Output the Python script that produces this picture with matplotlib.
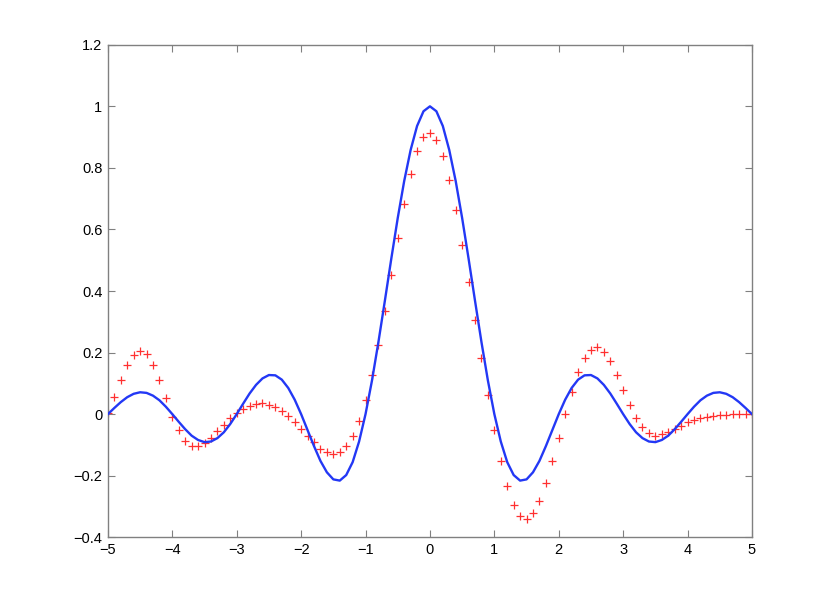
import numpy as np
import matplotlib
matplotlib.use("Agg")
import matplotlib.pyplot as plt
from matplotlib.ticker import FuncFormatter

plt.rcParams['font.family'] = ['Liberation Sans', 'DejaVu Sans']

# sample grid, -5 .. 5 step 0.1
x = np.linspace(-5, 5, 101)

# blue curve
blue_y = [
    0.000, 0.020, 0.039, 0.055, 0.066, 0.071, 0.069, 0.060, 0.045, 0.024,
    0.000, -0.025, -0.049, -0.070, -0.084, -0.091, -0.089, -0.078, -0.059, -0.032,
    0.000, 0.034, 0.067, 0.095, 0.116, 0.127, 0.126, 0.112, 0.085, 0.047,
    0.000, -0.052, -0.104, -0.152, -0.189, -0.212, -0.216, -0.198, -0.156, -0.089,
    0.000, 0.109, 0.234, 0.368, 0.505, 0.637, 0.757, 0.858, 0.936, 0.984,
    1.000,
    0.984, 0.936, 0.858, 0.757, 0.637, 0.505, 0.368, 0.234, 0.109, 0.000,
    -0.089, -0.156, -0.198, -0.216, -0.212, -0.189, -0.152, -0.104, -0.052, 0.000,
    0.047, 0.085, 0.112, 0.126, 0.127, 0.116, 0.095, 0.067, 0.034, 0.000,
    -0.032, -0.059, -0.078, -0.089, -0.091, -0.084, -0.070, -0.049, -0.025, 0.000,
    0.024, 0.045, 0.060, 0.069, 0.071, 0.066, 0.055, 0.039, 0.020, 0.000,
]

# red '+' samples
red_y = [
    0.004, 0.055, 0.110, 0.160, 0.193, 0.205, 0.194, 0.160, 0.110, 0.051,
    -0.008, -0.053, -0.087, -0.104, -0.104, -0.094, -0.078, -0.055, -0.034, -0.013,
    0.004, 0.018, 0.028, 0.034, 0.035, 0.030, 0.024, 0.011, -0.005, -0.026,
    -0.048, -0.072, -0.092, -0.112, -0.124, -0.129, -0.124, -0.105, -0.072, -0.022,
    0.045, 0.128, 0.224, 0.335, 0.452, 0.572, 0.683, 0.780, 0.855, 0.901,
    0.914,
    0.892, 0.840, 0.761, 0.663, 0.551, 0.430, 0.307, 0.183, 0.062, -0.050,
    -0.151, -0.234, -0.296, -0.332, -0.341, -0.322, -0.283, -0.223, -0.153, -0.076,
    0.002, 0.073, 0.136, 0.181, 0.209, 0.218, 0.203, 0.171, 0.128, 0.077,
    0.029, -0.012, -0.043, -0.062, -0.070, -0.066, -0.058, -0.048, -0.037, -0.026,
    -0.019, -0.013, -0.009, -0.005, -0.004, -0.002, -0.001, -0.001, 0.000, 0.000,
]

xticks = [-5, -4, -3, -2, -1, 0, 1, 2, 3, 4, 5]
yticks = [-0.4, -0.2, 0, 0.2, 0.4, 0.6, 0.8, 1, 1.2]

fig = plt.figure(figsize=(8.3, 6.05), dpi=100)
ax = fig.add_axes([0.13, 0.112, 0.776, 0.814])

ax.plot(x, blue_y, color="#2338f5", linewidth=1.7, zorder=3)
ax.plot(x, red_y, linestyle="none", marker="+", color="#ff3030",
        markersize=5.5, markeredgewidth=0.9, zorder=2)

ax.set_xlim(-5, 5)
ax.set_ylim(-0.4, 1.2)
ax.set_xticks(xticks)
ax.set_yticks(yticks)

fmt = FuncFormatter(lambda v, pos: "{:g}".format(round(v, 3)).replace("-", "\u2212"))
ax.xaxis.set_major_formatter(fmt)
ax.yaxis.set_major_formatter(fmt)

for side in ax.spines.values():
    side.set_color("#808080")
    side.set_linewidth(1.0)
ax.tick_params(direction="in", length=5, width=0.8, color="#808080",
               top=True, right=True, labelsize=10.5, labelcolor="black", pad=4)

fig.savefig("out.png", dpi=100, facecolor="white")
plt.close(fig)
